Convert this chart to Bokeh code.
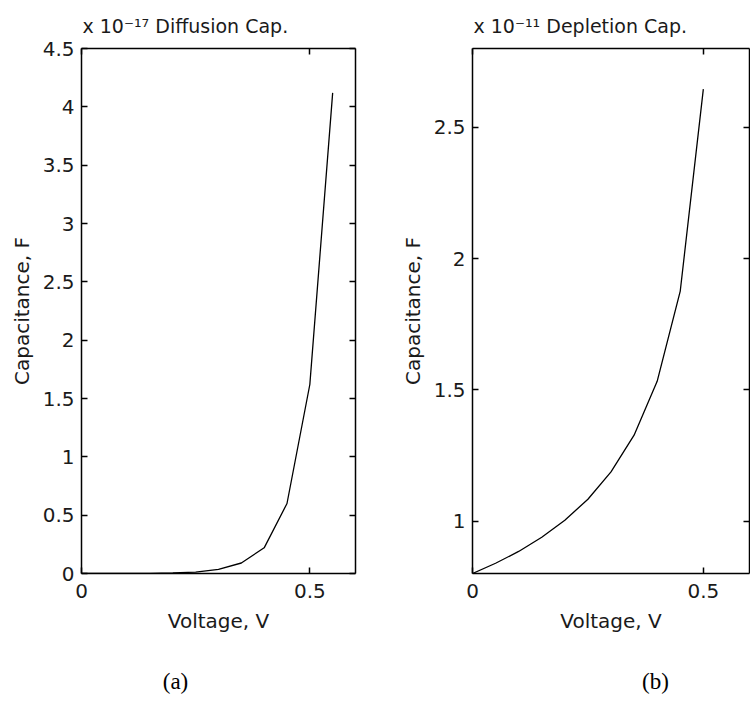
from bokeh.plotting import figure
from bokeh.models import Range1d, FixedTicker, LinearAxis, Label, CustomJSTickFormatter
from bokeh.layouts import row, column
from bokeh.embed import file_html
from bokeh.resources import INLINE

# ---- data ----
voltage_a = [0.0, 0.05, 0.10, 0.15, 0.20, 0.25, 0.30, 0.35, 0.40, 0.45, 0.50, 0.55]
diff_cap = [0.0001, 0.0002, 0.0006, 0.0017, 0.0045, 0.012, 0.035, 0.09, 0.22, 0.60, 1.62, 4.12]  # x 1e-17 F

voltage_b = [0.0, 0.05, 0.10, 0.15, 0.20, 0.25, 0.30, 0.35, 0.40, 0.45, 0.50]
depl_cap = [0.800, 0.839, 0.884, 0.938, 1.003, 1.083, 1.187, 1.327, 1.532, 1.876, 2.645]  # x 1e-11 F

xticks = [0, 0.5]
yticks_a = [0, 0.5, 1, 1.5, 2, 2.5, 3, 3.5, 4, 4.5]
yticks_b = [1, 1.5, 2, 2.5]

title_a = "x 10\u207b\u00b9\u2077 Diffusion Cap."
title_b = "x 10\u207b\u00b9\u00b9 Depletion Cap."
captions = ["(a)", "(b)"]

FONT = "DejaVu Sans"
TXT = "#1a1a1a"


def style(p, xt, yt):
    for ax in (p.xaxis[0], p.yaxis[0]):
        ax.major_tick_in = 6
        ax.major_tick_out = 0
        ax.minor_tick_line_color = None
        ax.axis_line_color = "black"
        ax.axis_line_width = 1.5
        ax.major_tick_line_color = "black"
        ax.major_tick_line_width = 1.5
        ax.major_label_text_font = FONT
        ax.major_label_text_font_size = "20px"
        ax.major_label_text_color = TXT
        ax.axis_label_text_font = FONT
        ax.axis_label_text_font_size = "20px"
        ax.axis_label_text_font_style = "normal"
        ax.axis_label_text_color = TXT
    p.xaxis[0].ticker = FixedTicker(ticks=xt)
    p.yaxis[0].ticker = FixedTicker(ticks=yt)
    p.xaxis[0].major_label_standoff = 10
    p.yaxis[0].major_label_standoff = 7
    p.xaxis[0].axis_label_standoff = 8
    p.yaxis[0].axis_label_standoff = 6
    blank = CustomJSTickFormatter(code="return ''")
    top = LinearAxis(ticker=FixedTicker(ticks=xt), formatter=blank, major_tick_in=6,
                     major_tick_out=0, minor_tick_line_color=None,
                     axis_line_width=1.5, major_tick_line_width=1.5, major_label_standoff=0)
    right = LinearAxis(ticker=FixedTicker(ticks=yt), formatter=blank, major_tick_in=6,
                       major_tick_out=0, minor_tick_line_color=None,
                       axis_line_width=1.5, major_tick_line_width=1.5, major_label_standoff=0)
    p.add_layout(top, "above")
    p.add_layout(right, "right")
    p.xgrid.grid_line_color = None
    p.ygrid.grid_line_color = None
    p.outline_line_color = None
    p.background_fill_color = "white"
    p.border_fill_color = "white"
    p.title.text_font = FONT
    p.title.text_font_size = "19px"
    p.title.text_font_style = "normal"
    p.title.text_color = TXT
    p.title.align = "left"
    p.title.offset = 1
    p.title.standoff = 24


FRAME_H = 525
TOP = 48
H = 648

# ---- (a) diffusion capacitance ----
pa = figure(width=392, height=H, output_backend="svg", toolbar_location=None,
            x_range=Range1d(0, 0.6), y_range=Range1d(0, 4.5),
            min_border_left=81, min_border_right=37, min_border_top=TOP,
            min_border_bottom=H - TOP - FRAME_H, title=title_a,
            x_axis_label="Voltage, V", y_axis_label="Capacitance, F")
pa.line(voltage_a, diff_cap, line_color="black", line_width=1.3)
style(pa, xticks, yticks_a)

# ---- (b) depletion capacitance ----
pb = figure(width=358, height=H, output_backend="svg", toolbar_location=None,
            x_range=Range1d(0, 0.6), y_range=Range1d(0.8, 2.8),
            min_border_left=80, min_border_right=1, min_border_top=TOP,
            min_border_bottom=H - TOP - FRAME_H, title=title_b,
            x_axis_label="Voltage, V", y_axis_label="Capacitance, F")
pb.line(voltage_b, depl_cap, line_color="black", line_width=1.3)
style(pb, xticks, yticks_b)

# ---- caption strip with (a) / (b) ----
cap = figure(width=750, height=52, output_backend="svg", toolbar_location=None,
             x_range=Range1d(0, 1), y_range=Range1d(0, 1),
             x_axis_location=None, y_axis_location=None,
             min_border=0, outline_line_color=None)
cap.xgrid.grid_line_color = None
cap.ygrid.grid_line_color = None
for txt, cx in zip(captions, [175, 655]):
    cap.add_layout(Label(x=cx, y=19, x_units="screen", y_units="screen", text=txt,
                         text_font="Liberation Serif", text_font_size="23px",
                         text_color="black", text_align="center", text_baseline="middle"))

layout = column(row(pa, pb, spacing=0), cap, spacing=0)
open("out.html", "w").write(file_html(layout, INLINE))
